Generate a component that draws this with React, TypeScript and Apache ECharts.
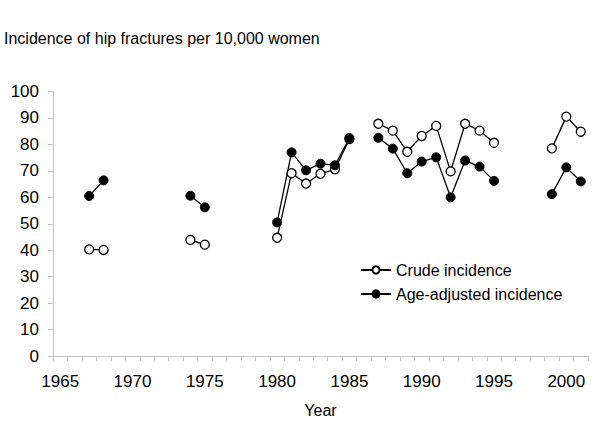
import React, { useEffect, useRef } from "react";
import * as echarts from "echarts";

const years: string[] = [];
for (let y = 1965; y <= 2001; y++) years.push(String(y));

// values keyed by year (missing years = no observation)
const crudeYears = [1967, 1968, 1974, 1975, 1980, 1981, 1982, 1983, 1984, 1985, 1987, 1988, 1989, 1990, 1991, 1992, 1993, 1994, 1995, 1999, 2000, 2001];
const crudeValues = [40.3, 40.1, 43.9, 42.1, 44.7, 69.1, 65.2, 68.9, 70.6, 82.0, 87.8, 85.2, 77.2, 83.2, 87.0, 69.8, 87.8, 85.2, 80.6, 78.5, 90.5, 84.8];
const adjValues = [60.5, 66.4, 60.6, 56.2, 50.5, 77.0, 70.2, 72.7, 72.1, 82.4, 82.5, 78.4, 69.1, 73.5, 75.1, 60.0, 73.9, 71.6, 66.2, 61.2, 71.3, 66.0];

const yTicks = { min: 0, max: 100, interval: 10 };

function toSeries(vals: number[]): (number | null)[] {
  return years.map((y) => {
    const i = crudeYears.indexOf(Number(y));
    return i >= 0 ? vals[i] : null;
  });
}

const FONT = "'Liberation Sans', Arial, sans-serif";
const AXIS_GRAY = "#c4c4c4";

export default function App() {
  const ref = useRef<HTMLDivElement>(null);
  useEffect(() => {
    if (!ref.current) return;
    const chart = echarts.init(ref.current, undefined, { renderer: "svg" });
    chart.setOption({
      animation: false,
      backgroundColor: "#ffffff",
      textStyle: { fontFamily: FONT },
      title: {
        text: "Incidence of hip fractures per 10,000 women",
        left: 4,
        top: 30,
        padding: 0,
        textStyle: { fontSize: 16, fontWeight: "normal", color: "#000", fontFamily: FONT },
      },
      legend: {
        orient: "vertical",
        left: 360,
        top: 262,
        padding: 0,
        itemWidth: 30,
        itemHeight: 9,
        itemGap: 8,
        textStyle: { fontSize: 16, color: "#000", fontFamily: FONT },
        data: ["Crude incidence", "Age-adjusted incidence"],
      },
      grid: {
        left: 53,
        right: 12,
        top: 91.5,
        bottom: 68,
        containLabel: false,
        outerBoundsMode: "none",
      },
      xAxis: {
        type: "category",
        data: years,
        boundaryGap: true,
        name: "Year",
        nameLocation: "middle",
        nameGap: 46,
        nameTextStyle: { fontSize: 16, color: "#000", fontFamily: FONT },
        axisLine: { show: true, lineStyle: { color: AXIS_GRAY, width: 1 } },
        axisTick: { show: true, interval: 0, length: 5, lineStyle: { color: AXIS_GRAY } },
        axisLabel: { interval: 4, fontSize: 17, color: "#000", margin: 17, fontFamily: FONT },
        splitLine: { show: false },
      },
      yAxis: {
        type: "value",
        min: yTicks.min,
        max: yTicks.max,
        interval: yTicks.interval,
        axisLine: { show: true, lineStyle: { color: AXIS_GRAY, width: 1 } },
        axisTick: { show: true, length: 5, lineStyle: { color: AXIS_GRAY } },
        axisLabel: { fontSize: 17, color: "#000", margin: 14, fontFamily: FONT },
        splitLine: { show: false },
      },
      series: [
        {
          name: "Crude incidence",
          type: "line",
          data: toSeries(crudeValues),
          connectNulls: false,
          symbol: "circle",
          symbolSize: 9,
          showAllSymbol: true,
          lineStyle: { color: "#000", width: 1.3 },
          itemStyle: { color: "#fff", borderColor: "#000", borderWidth: 1.3 },
          emphasis: { disabled: true },
        },
        {
          name: "Age-adjusted incidence",
          type: "line",
          data: toSeries(adjValues),
          connectNulls: false,
          symbol: "circle",
          symbolSize: 9,
          showAllSymbol: true,
          lineStyle: { color: "#000", width: 1.3 },
          itemStyle: { color: "#000", borderColor: "#000", borderWidth: 1 },
          emphasis: { disabled: true },
        },
      ],
    });
    return () => chart.dispose();
  }, []);
  return (
    <div
      ref={ref}
      style={{ position: "fixed", left: 0, top: 0, width: 600, height: 424, background: "#fff" }}
    />
  );
}
